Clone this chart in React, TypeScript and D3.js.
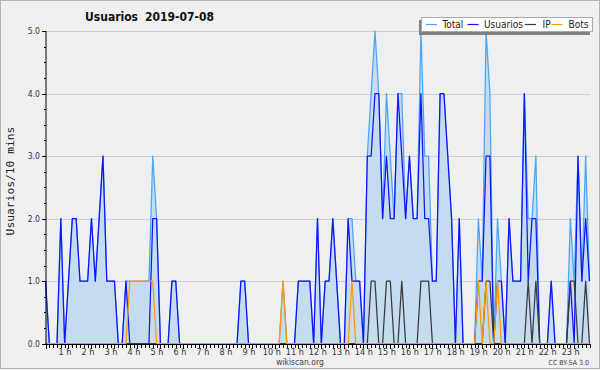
import React from "react";
import * as d3 from "d3";

// 10-minute intervals, 00:00 .. 23:40
const usuarios = [
  1,0,0,0,2,0,1,2,2,1,1,1,2,1,2,3,1,1,1,0,
  0,1,0,0,0,0,0,0,2,2,0,0,0,1,1,0,0,0,0,0,
  0,0,0,0,0,0,0,0,0,0,0,1,1,0,0,0,0,0,0,0,
  0,0,0,0,0,0,1,1,1,1,0,2,0,1,1,2,1,0,0,2,
  1,1,1,0,3,3,4,4,2,3,2,2,4,3,2,3,2,2,4,2,
  2,1,1,4,4,3,2,0,2,0,0,0,0,1,1,3,3,0,1,1,
  0,2,1,1,1,4,1,2,2,0,0,0,1,0,0,0,0,1,0,3,
  1,2,1,
];
const ip = [
  0,0,0,0,0,0,0,0,0,0,0,0,0,0,0,0,0,0,0,0,
  0,0,0,0,0,0,0,0,0,0,0,0,0,0,0,0,0,0,0,0,
  0,0,0,0,0,0,0,0,0,0,0,0,0,0,0,0,0,0,0,0,
  0,0,0,0,0,0,0,0,0,0,0,0,0,0,0,0,0,0,0,0,
  0,0,0,0,0,1,1,0,0,1,1,0,0,1,0,0,0,0,1,1,
  1,0,0,0,0,0,0,0,0,0,0,0,0,0,0,1,1,0,0,0,
  0,0,0,0,0,0,1,0,1,0,0,0,0,0,0,0,0,1,1,0,
  0,1,0,
];
const bots = [
  0,0,0,0,0,0,0,0,0,0,0,0,0,0,0,0,0,0,0,0,
  0,0,1,1,1,1,1,1,1,0,0,0,0,0,0,0,0,0,0,0,
  0,0,0,0,0,0,0,0,0,0,0,0,0,0,0,0,0,0,0,0,
  0,0,1,0,0,0,0,0,0,0,0,0,0,0,0,0,0,0,0,0,
  1,0,0,0,0,0,0,0,0,0,0,0,0,0,0,0,0,0,0,0,
  0,0,0,0,0,0,0,0,0,0,0,0,0,1,0,1,0,0,1,0,
  0,0,0,0,0,0,0,0,0,0,0,0,0,0,0,0,0,0,0,0,
  0,0,0,
];
const total = [
  1,0,0,0,2,0,1,2,2,1,1,1,2,1,2,3,1,1,1,0,
  0,1,1,1,1,1,1,1,3,2,0,0,0,1,1,0,0,0,0,0,
  0,0,0,0,0,0,0,0,0,0,0,1,1,0,0,0,0,0,0,0,
  0,0,1,0,0,0,1,1,1,1,0,2,0,1,1,2,1,0,0,2,
  2,1,1,0,3,4,5,4,2,4,3,2,4,4,2,3,2,2,5,3,
  3,1,1,4,4,3,2,0,2,0,0,0,0,2,1,5,4,0,2,1,
  0,2,1,1,1,4,2,2,3,0,0,0,1,0,0,0,0,2,1,3,
  1,3,1,
];
const hourLabels = d3.range(1, 24).map((h) => `${h} h`);
const yTicks = [0, 1, 2, 3, 4, 5];
const legendItems = ["Total", "Usuarios", "IP", "Bots"];
const title = "Usuarios";
const dateLabel = "2019-07-08";
const yTitle = "Usuarios/10 mins";

const COLORS = {
  Total: "#4aa5f5",
  Usuarios: "#1414ff",
  IP: "#3a3a3a",
  Bots: "#ff9a00",
};
const FONT = "'DejaVu Sans Condensed', 'DejaVu Sans', sans-serif";

export default function App() {
  const W = 600, H = 370;
  const n = usuarios.length;
  const x = d3.scaleLinear().domain([0, n - 1]).range([45.5, 589.5]);
  const y = d3.scaleLinear().domain([0, 5]).range([343.7, 31]);
  const line = d3.line<number>().x((_, i) => x(i)).y((d) => y(d));
  const area = d3.area<number>().x((_, i) => x(i)).y0(y(0)).y1((d) => y(d));
  const series: [string, number[]][] = [
    ["Total", total],
    ["Usuarios", usuarios],
    ["IP", ip],
    ["Bots", bots],
  ];
  const minor = d3.range(0, 5.001, 0.25);
  const legendX = [426, 467.5, 525, 551.5];
  const legendTextX = [442.5, 484, 542.5, 568.5];

  return (
    <svg width={W} height={H} style={{ position: "absolute", left: 0, top: 0 }}>
      <rect x={0} y={0} width={W} height={H} fill="#f0f0f0" />
      <rect x={0.5} y={0.5} width={599} height={368} fill="none" stroke="#b4b4b4" />
      <rect x={46} y={31} width={544} height={313} fill="#eeeff1" />
      {yTicks.map((t) => (
        <line key={t} x1={46} x2={590} y1={Math.round(y(t)) + 0.5} y2={Math.round(y(t)) + 0.5} stroke="#cfcfcf" />
      ))}
      <defs>
        <clipPath id="plot">
          <rect x={45} y={28} width={546} height={317} />
        </clipPath>
      </defs>
      <g clipPath="url(#plot)">
        <path d={area(total) || ""} fill="#c5dcf0" />
        {series.map(([name, vals]) => (
          <path key={name} d={line(vals) || ""} fill="none" stroke={(COLORS as any)[name]} strokeWidth={1.25} strokeLinejoin="round" />
        ))}
      </g>
      {/* y axis */}
      <line x1={46} x2={46} y1={31} y2={344} stroke="#000" />
      {minor.map((t) => (
        <line key={t} x1={Number.isInteger(t) ? 42 : 44} x2={46} y1={Math.round(y(t)) + 0.5} y2={Math.round(y(t)) + 0.5} stroke="#000" />
      ))}
      {yTicks.map((t) => (
        <text key={t} x={40} y={y(t) + 3} textAnchor="end" fontFamily={FONT} fontSize={8.5} fill="#333">
          {t.toFixed(1)}
        </text>
      ))}
      {/* x axis */}
      <line x1={46} x2={590} y1={344.5} y2={344.5} stroke="#000" />
      {d3.range(n).map((i) => (
        <line key={i} x1={Math.round(x(i)) + 0.5} x2={Math.round(x(i)) + 0.5} y1={344} y2={i % 6 === 0 ? 349 : 348} stroke="#000" />
      ))}
      {hourLabels.map((l, k) => (
        <text key={l} x={x((k + 1) * 6) - 3.5} y={354.5} textAnchor="middle" fontFamily={FONT} fontSize={9} fill="#333">
          {l}
        </text>
      ))}
      <text x={10} y={181} transform="rotate(-90 10 181)" dy={4} textAnchor="middle" fontFamily="'DejaVu Sans Mono', monospace" fontSize={11.3} fill="#222">
        {yTitle}
      </text>
      {/* title */}
      <text x={85} y={21} fontFamily={FONT} fontWeight="bold" fontSize={12} fill="#111">{title}</text>
      <text x={145} y={21} fontFamily={FONT} fontWeight="bold" fontSize={12} fill="#111">{dateLabel}</text>
      {/* legend */}
      <rect x={419} y={20} width={171} height={15} fill="#7f7f7f" />
      <rect x={421.5} y={17.5} width={171} height={14} fill="#fff" stroke="#a8a8a8" />
      {legendItems.map((name, k) => (
        <g key={name}>
          <line x1={legendX[k]} x2={legendX[k] + 11} y1={24.5} y2={24.5} stroke={(COLORS as any)[name]} strokeWidth={1.2} />
          <text x={legendTextX[k]} y={28.3} fontFamily={FONT} fontSize={10} fill="#222">{name}</text>
        </g>
      ))}
      <text x={300} y={364.5} textAnchor="middle" fontFamily={FONT} fontSize={8.5} fill="#444">wikiscan.org</text>
      <text x={589} y={364.5} textAnchor="end" fontFamily={FONT} fontSize={7} fill="#444">CC BY-SA 3.0</text>
    </svg>
  );
}
